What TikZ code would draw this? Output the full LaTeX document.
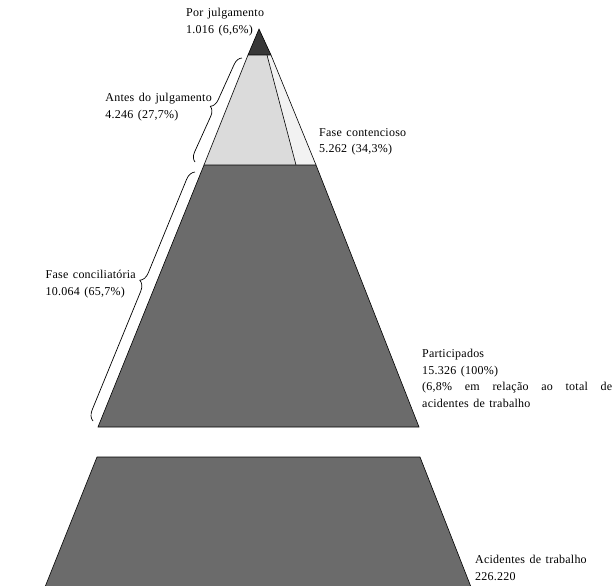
\documentclass[tikz,border=0pt]{standalone}
\usepackage{fontspec}
\setmainfont[LetterSpace=2,WordSpace=1.4]{Liberation Serif}
\usetikzlibrary{decorations.pathreplacing, positioning}
\tikzstyle{dark} = [fill=black!58, draw=black, line width=0.6pt]
\tikzstyle{tip} = [fill=black!78, draw=black, line width=0.6pt]
\tikzstyle{stipple} = [fill=black!14]
\tikzstyle{edge} = [draw=black, line width=0.6pt]
\tikzstyle{labeltext} = [align=left, inner sep=0pt, font=\fontsize{12}{16.5}\selectfont]
\tikzstyle{curly} = [decorate, decoration={brace, amplitude=9pt}, line width=0.7pt]

\begin{document}
\begin{tikzpicture}[x=1pt, y=-1pt]
		\useasboundingbox (0,0) rectangle (614,586);
		\coordinate (Apex) at (259,29);
		\coordinate (TipL) at (248,55);
		\coordinate (TipR) at (271,55);
		\coordinate (InnerTop) at (267,55);
		\coordinate (Split) at (296,165);
		\coordinate (MidTL) at (204,165);
		\coordinate (MidTR) at (316,165);
		\coordinate (MidBL) at (98,427);
		\coordinate (MidBR) at (419,427);
		\coordinate (LowTL) at (97,457);
		\coordinate (LowTR) at (420,457);
		\coordinate (LowBL) at (45,587);
		\coordinate (LowBR) at (471,587);
		\fill[stipple] (TipL) -- (InnerTop) -- (Split) -- (MidTL) -- cycle;
		\fill[black!5] (InnerTop) -- (TipR) -- (MidTR) -- (Split) -- cycle;
		\draw[edge] (TipL) -- (MidTL);
		\draw[edge] (TipR) -- (MidTR);
		\draw[edge] (InnerTop) -- (Split);
		\filldraw[tip] (Apex) -- (TipR) -- (TipL) -- cycle;
		\filldraw[dark] (MidTL) -- (MidTR) -- (MidBR) -- (MidBL) -- cycle;
		\filldraw[dark] (LowTL) -- (LowTR) -- (LowBR) -- (LowBL) -- cycle;
		\coordinate (PreBot) at (195,162);
		\coordinate (PreTop) at (242,58);
		\coordinate (ConcBot) at (93,421);
		\coordinate (ConcTop) at (195,172);
		\draw[curly] (PreBot) -- (PreTop);
		\draw[curly, decoration={brace, amplitude=10pt, aspect=0.55}] (ConcBot) -- (ConcTop);
		\node (TopLabel) [labeltext, anchor=north west] at (186,8) {Por julgamento\\1.016 (6,6\%)};
		\node (PreLabel) [labeltext, anchor=north east] at (212,93) {Antes do julgamento\\4.246 (27,7\%)};
		\node (ContLabel) [labeltext, anchor=north west] at (319,128) {Fase contencioso\\5.262 (34,3\%)};
		\node (ConcLabel) [labeltext, anchor=north east] at (136,270) {Fase conciliatória\\10.064 (65,7\%)};
		\node (PartLabel) [labeltext, anchor=north west] at (422,349) {Participados\\15.326 (100\%)\\\makebox[190pt][s]{(6,8\% em relação ao total de}\\acidentes de trabalho};
		\node (AccLabel) [labeltext, anchor=north west] at (475,555) {Acidentes de trabalho\\226.220};
	\end{tikzpicture}
\end{document}
